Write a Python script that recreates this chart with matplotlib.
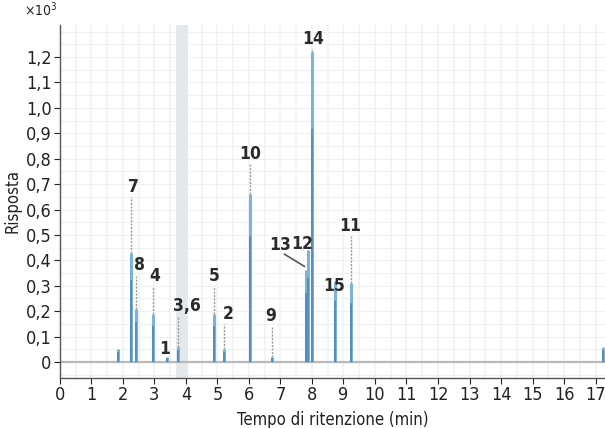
import matplotlib
matplotlib.use("Agg")
import matplotlib.pyplot as plt
from matplotlib import font_manager

names = {f.name for f in font_manager.fontManager.ttflist}
fam = "Liberation Sans Narrow" if "Liberation Sans Narrow" in names else "DejaVu Sans"
plt.rcParams['font.family'] = [fam, 'DejaVu Sans']
plt.rcParams['font.stretch'] = 'condensed'

# Peak data (retention time in min, response x10^3)
peak_times = [1.85, 2.25, 2.40, 2.95, 3.40, 3.75, 4.90, 5.22, 6.03, 6.72, 7.80, 7.88, 8.00, 8.72, 9.24, 17.25]
peak_heights = [0.05, 0.43, 0.21, 0.19, 0.02, 0.06, 0.19, 0.05, 0.66, 0.02, 0.36, 0.44, 1.22, 0.32, 0.31, 0.06]

labels = ["7", "8", "4", "1", "3,6", "5", "2", "10", "9", "13", "12", "14", "15", "11"]
label_x = [2.32, 2.54, 3.02, 3.33, 4.03, 4.89, 5.33, 6.03, 6.70, 6.98, 7.68, 8.03, 8.70, 9.21]
label_y = [0.69, 0.38, 0.34, 0.05, 0.22, 0.34, 0.19, 0.82, 0.18, 0.46, 0.465, 1.27, 0.30, 0.535]
marker_x = [2.25, 2.40, 2.95, None, 3.75, 4.90, 5.22, 6.03, 6.72, None, 7.88, 8.00, 8.72, 9.24]

xticks = list(range(0, 18))
yticks = [0, 0.1, 0.2, 0.3, 0.4, 0.5, 0.6, 0.7, 0.8, 0.9, 1.0, 1.1, 1.2]
ytick_labels = ["0", "0,1", "0,2", "0,3", "0,4", "0,5", "0,6", "0,7", "0,8", "0,9", "1,0", "1,1", "1,2"]

fig = plt.figure(figsize=(6.05, 4.28), dpi=100)
ax = fig.add_axes([0.099, 0.117, 0.901, 0.825])
ax.set_xlim(0, 17.3)
ax.set_ylim(-0.063, 1.327)

# faint grid
for y in [i * 0.05 for i in range(-1, 27)]:
    ax.axhline(y, color="#eef0f1", lw=0.8, zorder=0)
for x in [0.5 * i for i in range(0, 35)]:
    ax.axvline(x, color="#f0f2f3", lw=1.2, zorder=0)
ax.axvspan(3.68, 4.05, color="#e2e8eb", zorder=0.5, lw=0)

# baseline
ax.axhline(0, color="#b9b9b9", lw=1.6, zorder=1)

# marker dotted lines above peaks
for mx, ly in zip(marker_x, label_y):
    if mx is None:
        continue
    h = peak_heights[peak_times.index(mx)] if mx in peak_times else 0.0
    ax.vlines(mx, h, ly - 0.04, color="#9a9a9a", lw=1.0, linestyles=(0, (1.5, 1)), zorder=2)

# peaks
ax.vlines(peak_times, 0, peak_heights, color="#7db3d8", lw=2.2, zorder=3)
ax.vlines(peak_times, 0, [h * 0.75 for h in peak_heights], color="#4a86b5", lw=1.1, zorder=3)

# labels
for lab, lx, ly in zip(labels, label_x, label_y):
    ax.text(lx, ly, lab, ha="center", va="center", fontsize=12.5, fontweight="bold", color="#2a2a2a", zorder=5)
ax.annotate("", xy=(7.84, 0.37), xytext=(7.05, 0.43),
            arrowprops=dict(arrowstyle="-", color="#555555", lw=1.2), zorder=4)

ax.set_xticks(xticks)
ax.set_xticklabels([str(t) for t in xticks])
ax.set_yticks(yticks)
ax.set_yticklabels(ytick_labels)
ax.tick_params(axis="both", labelsize=13, colors="#222222", length=4, width=0.8, direction="out", pad=2)
for s in ["top", "right"]:
    ax.spines[s].set_visible(False)
for s in ["left", "bottom"]:
    ax.spines[s].set_color("#555555")
    ax.spines[s].set_linewidth(1.0)

ax.set_xlabel("Tempo di ritenzione (min)", fontsize=12, color="#222222", labelpad=5)
ax.set_ylabel("Risposta", fontsize=12, color="#222222", labelpad=3)
fig.text(0.04, 0.955, r"×10$^3$", fontsize=10, color="#222222", ha="left", va="bottom")

fig.savefig("out.png", dpi=100)
